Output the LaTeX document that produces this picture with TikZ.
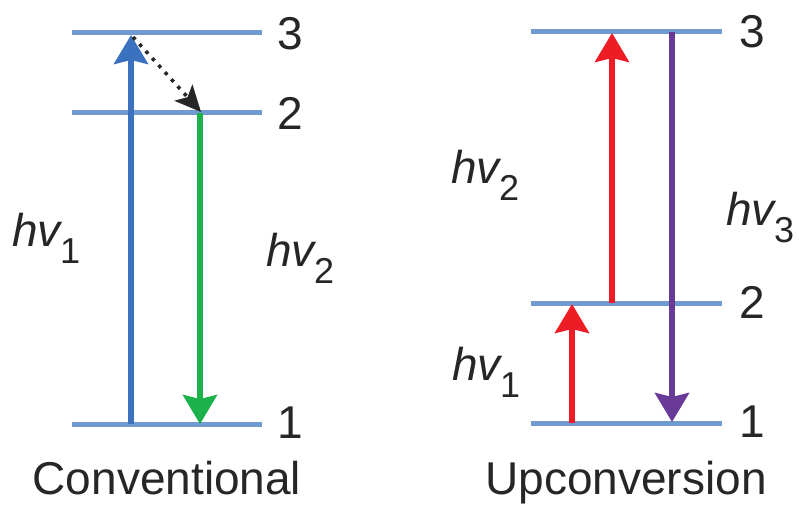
\documentclass[tikz,border=0pt]{standalone}
\usepackage{fontspec}
\setmainfont{Liberation Sans}
\usetikzlibrary{arrows.meta}
\definecolor{lvlblue}{HTML}{6F9BD1}
\definecolor{exblue}{HTML}{3A72C0}
\definecolor{emgreen}{HTML}{1DB14B}
\definecolor{exred}{HTML}{EE1C25}
\definecolor{empurple}{HTML}{6A3A98}
\tikzset{
  level/.style={line width=5pt, draw=lvlblue},
  trans/.style={line width=5.5pt, -{Stealth[length=29pt,width=34pt,inset=4pt]}},
  relax/.style={line width=3.5pt, black!85, dash pattern=on 3.5pt off 6pt, -{Stealth[length=26pt,width=24pt,inset=6pt]}},
  lbl/.style={font=\fontsize{46}{50}\selectfont, text=black!85, inner sep=0pt},
}
\newcommand{\hvsub}[1]{\textit{hv}\kern-0.06em\raisebox{-0.38em}{\fontsize{36}{40}\selectfont #1}}
\begin{document}
\begin{tikzpicture}[x=1pt,y=-1pt]
\useasboundingbox (0,0) rectangle (799,505);
% left levels
\coordinate (a3w) at (72,33);  \coordinate (a3e) at (262,33);
\coordinate (a2w) at (72,113); \coordinate (a2e) at (262,113);
\coordinate (a1w) at (72,424); \coordinate (a1e) at (262,424);
\draw[level] (a3w) -- (a3e);
\draw[level] (a2w) -- (a2e);
\draw[level] (a1w) -- (a1e);
% right levels
\coordinate (b3w) at (531,32);  \coordinate (b3e) at (722,32);
\coordinate (b2w) at (531,303); \coordinate (b2e) at (722,303);
\coordinate (b1w) at (531,423); \coordinate (b1e) at (722,423);
\draw[level] (b3w) -- (b3e);
\draw[level] (b2w) -- (b2e);
\draw[level] (b1w) -- (b1e);
% left transitions
\coordinate (blueS) at (131,424); \coordinate (blueE) at (131,35);
\coordinate (grS) at (200,113);  \coordinate (grE) at (200,424);
\coordinate (dotS) at (133,37);  \coordinate (dotE) at (201,112);
\draw[trans, exblue] (blueS) -- (blueE);
\draw[trans, emgreen] (grS) -- (grE);
\draw[relax] (dotS) -- (dotE);
% right transitions
\coordinate (r1S) at (572,423); \coordinate (r1E) at (572,304);
\coordinate (r2S) at (612,303); \coordinate (r2E) at (612,33);
\coordinate (puS) at (672,32);  \coordinate (puE) at (672,422);
\draw[trans, exred] (r1S) -- (r1E);
\draw[trans, exred] (r2S) -- (r2E);
\draw[trans, empurple] (puS) -- (puE);
% level numbers
\node[lbl, anchor=base] (n3a) at (290,50) {3};
\node[lbl, anchor=base] (n2a) at (290,130) {2};
\node[lbl, anchor=base] (n1a) at (290,438) {1};
\node[lbl, anchor=base] (n3b) at (752,48) {3};
\node[lbl, anchor=base] (n2b) at (752,318) {2};
\node[lbl, anchor=base] (n1b) at (752,437) {1};
% photon labels
\node[lbl, anchor=base west] (hv1a) at (12,246) {\hvsub{1}};
\node[lbl, anchor=base west] (hv2a) at (266,266) {\hvsub{2}};
\node[lbl, anchor=base west] (hv2b) at (451,183) {\hvsub{2}};
\node[lbl, anchor=base west] (hv3b) at (726,225) {\hvsub{3}};
\node[lbl, anchor=base west] (hv1b) at (452,380) {\hvsub{1}};
% captions
\node[lbl, anchor=base] (capA) at (167,494) {Conventional};
\node[lbl, anchor=base] (capB) at (626,494) {Upconversion};
\end{tikzpicture}
\end{document}
